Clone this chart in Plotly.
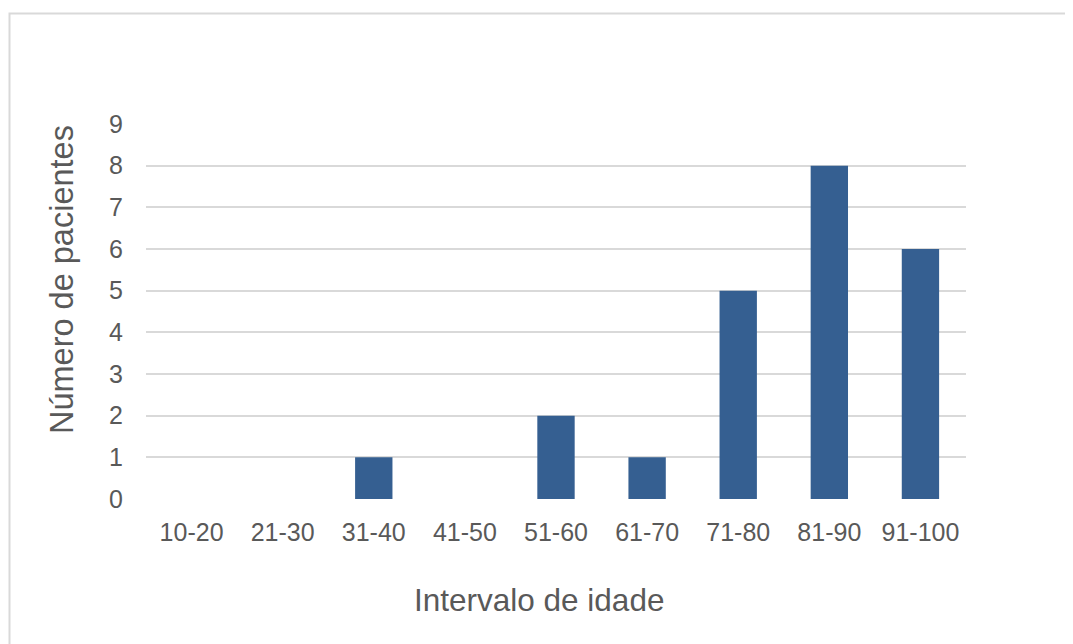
import plotly.graph_objects as go

categories = ["10-20", "21-30", "31-40", "41-50", "51-60", "61-70", "71-80", "81-90", "91-100"]
values = [0, 0, 1, 0, 2, 1, 5, 8, 6]
y_ticks = [0, 1, 2, 3, 4, 5, 6, 7, 8, 9]

FONT = "Liberation Sans, Arial, sans-serif"
GREY = "#595959"

# page body has an 8px margin; plot area target in window: x 146..966, y 124..499
OFF = 8
fig = go.Figure(go.Bar(x=categories, y=values, marker_color="#355F91", marker_line_width=0, width=0.41))

fig.update_layout(
    width=1073, height=644,
    margin=dict(l=146 - OFF, r=107 + OFF, t=124 - OFF, b=145 + OFF),
    plot_bgcolor="white", paper_bgcolor="white",
    showlegend=False,
    font=dict(family=FONT, color=GREY, size=25),
    xaxis=dict(showgrid=False, showline=False, zeroline=False, ticks="",
               tickfont=dict(size=25, color=GREY), ticklabelstandoff=16),
    yaxis=dict(range=[0, 9], tickvals=y_ticks, showgrid=True, gridcolor="#D9D9D9", gridwidth=1.5,
               zeroline=False, showline=False, ticks="",
               tickfont=dict(size=25, color=GREY), ticklabelstandoff=22),
    annotations=[
        dict(text="Intervalo de idade", xref="paper", yref="paper",
             x=(539 - 146) / 820, y=(499 - 600) / 375, xanchor="center", yanchor="middle",
             showarrow=False, font=dict(size=31.5, color=GREY, family=FONT)),
        dict(text="Número de pacientes", xref="paper", yref="paper",
             x=(62 - 146) / 820, y=(499 - 280) / 375, xanchor="center", yanchor="middle",
             textangle=-90, showarrow=False, font=dict(size=32.5, color=GREY, family=FONT)),
    ],
    shapes=[
        dict(type="rect", xref="paper", yref="paper",
             x0=(9.5 - 146) / 820, x1=(1100 - 146) / 820,
             y0=(499 - 700) / 375, y1=(499 - 13.5) / 375,
             line=dict(color="#D9D9D9", width=2), fillcolor="rgba(0,0,0,0)", layer="below"),
    ],
)

fig.write_html("out.html")
